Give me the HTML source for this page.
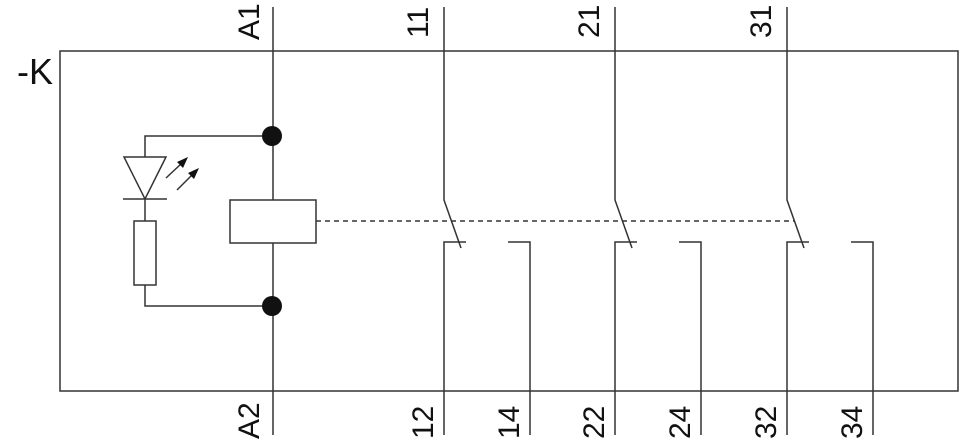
<!DOCTYPE html>
<html><head><style>body{margin:0;background:#fff}svg{display:block}</style></head><body>
<svg width="960" height="440" viewBox="0 0 960 440" xmlns="http://www.w3.org/2000/svg" font-family="Liberation Sans, sans-serif">
<g stroke="#333" stroke-width="1.5" fill="none">
<rect x="60" y="51" width="898" height="340"/>
<line x1="273" y1="7" x2="273" y2="200"/>
<line x1="273" y1="243" x2="273" y2="435"/>
<rect x="230" y="200" width="86" height="43" fill="#fff"/>
<polyline points="272,136 145,136 145,157"/>
<polygon points="124,157 166,157 145,199"/>
<line x1="123" y1="199" x2="167" y2="199"/>
<line x1="145" y1="199" x2="145" y2="221"/>
<rect x="134" y="221" width="22" height="64"/>
<polyline points="145,285 145,306 272,306"/>
<line x1="166" y1="178" x2="182" y2="163"/>
<line x1="177" y1="190" x2="193" y2="174"/>
<line x1="316" y1="221" x2="795" y2="221" stroke-dasharray="5,4"/>
<g id="c">
<polyline points="444,7 444,200 461,248"/>
<polyline points="466,242 444,242 444,435"/>
<polyline points="508,242 530,242 530,435"/>
</g>
<use href="#c" x="171"/>
<use href="#c" x="343"/>
</g>
<g fill="#111">
<polygon points="188,157 177,162 183,168"/>
<polygon points="199,168 188,173 194,179"/>
<circle cx="272" cy="136" r="10"/>
<circle cx="272" cy="306" r="10"/>
</g>
<g font-size="30" fill="#111">
<text x="17" y="84" font-size="36">-K</text>
<text transform="translate(259,40) rotate(-90)">A1</text>
<text transform="translate(428,38) rotate(-90)">11</text>
<text transform="translate(599,38) rotate(-90)">21</text>
<text transform="translate(771,38) rotate(-90)">31</text>
<text transform="translate(259,439) rotate(-90)">A2</text>
<text transform="translate(433,439) rotate(-90)">12</text>
<text transform="translate(519,439) rotate(-90)">14</text>
<text transform="translate(604,439) rotate(-90)">22</text>
<text transform="translate(690,439) rotate(-90)">24</text>
<text transform="translate(776,439) rotate(-90)">32</text>
<text transform="translate(862,439) rotate(-90)">34</text>
</g>
</svg>
</body></html>
